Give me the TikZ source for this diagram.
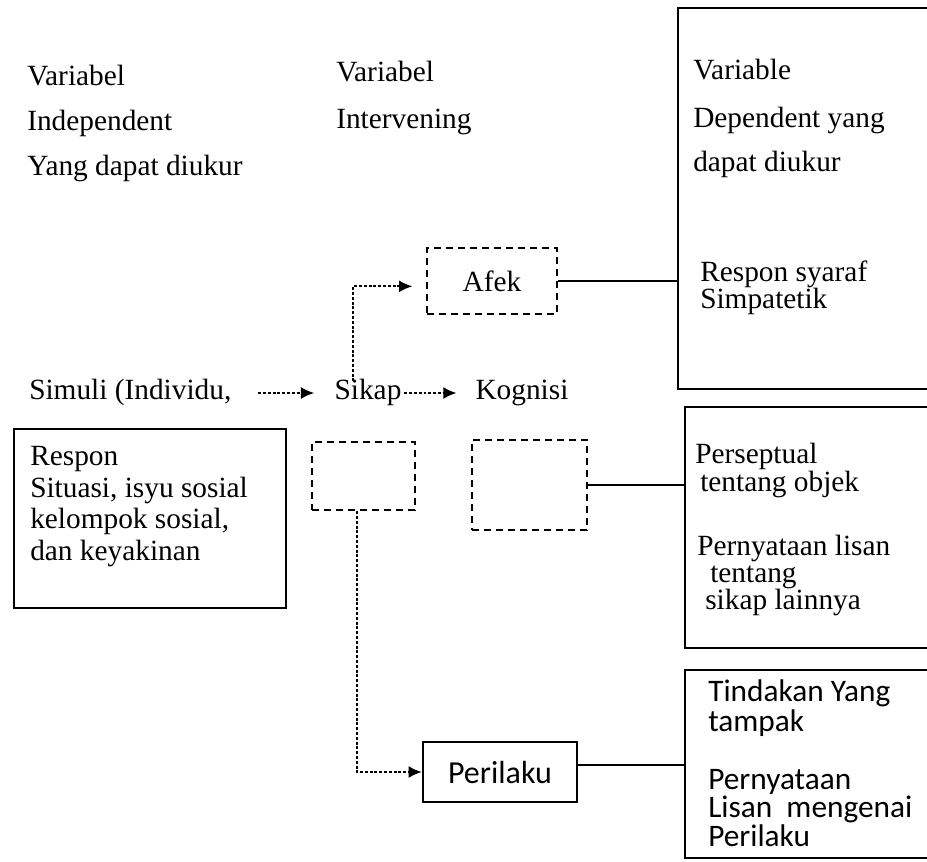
\documentclass[tikz,border=0pt]{standalone}
\usepackage{fontspec}
\setmainfont{Liberation Serif}
\newfontfamily\calib{Carlito}
\usetikzlibrary{arrows.meta}
\tikzset{
box/.style={draw, line width=1.6pt, rectangle, inner sep=0pt},
dbox/.style={draw, line width=1.8pt, dash pattern=on 5.5pt off 3.5pt, rectangle, inner sep=0pt,
  font=\fontsize{22}{24}\selectfont},
lbl/.style={anchor=west, inner sep=0pt, text height=13pt, text depth=4pt,
  font=\fontsize{22}{24}\selectfont},
slbl/.style={anchor=west, inner sep=0pt, text height=14pt, text depth=4pt,
  font=\calib\fontsize{23.5}{26}\selectfont},
dots/.style={line width=1.6pt, dash pattern=on 2.2pt off 1.4pt,
  -{Latex[length=10pt,width=9pt]}},
link/.style={line width=1.6pt},
}

\begin{document}
\begin{tikzpicture}[x=0.75pt, y=-0.75pt]
\useasboundingbox[fill=white] (0,0) rectangle (927,861);
% the headings
\node[lbl] (indep1) at (27,79) {Variabel};
\node[lbl] (indep2) at (27,124) {Independent};
\node[lbl] (indep3) at (27,169) {Yang dapat diukur};
\node[lbl] (interv1) at (336,75) {Variabel};
\node[lbl] (interv2) at (336,122) {Intervening};
% the boxes on the right, open at the page edge
\coordinate (dep) at (678,8);
\coordinate (kogres) at (685,407);
\coordinate (actres) at (685,670);
\draw[link] (927,8) -| (678,389) -- (927,389);
\draw[link] (927,407) -| (685,648) -- (927,648);
\draw[link] (927,670) -| (685,858) -- (927,858);
\node[lbl] (dep1) at (693,73) {Variable};
\node[lbl] (dep2) at (693,121) {Dependent yang};
\node[lbl] (dep3) at (693,165) {dapat diukur};
\node[lbl] (dep4) at (700,275) {Respon syaraf};
\node[lbl] (dep5) at (700,302) {Simpatetik};
\node[lbl] (kog1) at (695,457) {Perseptual};
\node[lbl] (kog2) at (700,485) {tentang objek};
\node[lbl] (kog3) at (697,549) {Pernyataan lisan};
\node[lbl] (kog4) at (710,576) {tentang};
\node[lbl] (kog5) at (705,603) {sikap lainnya};
\foreach \txt [count=\i] in {Tindakan Yang, tampak}
  \node[slbl] (act\i) at (708,665+30*\i) {\txt};
\foreach \txt [count=\i] in {Pernyataan, Lisan\ \ mengenai, Perilaku}
  \node[slbl] (act\the\numexpr\i+2\relax) at (708,754+28.5*\i) {\txt};
% the stimulus
\node[lbl] (simuli) at (29,393) {Simuli (Individu,};
\node[box, anchor=north west, minimum width=204pt, minimum height=134.25pt] (respon) at (13,428) {};
\foreach \txt [count=\i] in {Respon, {Situasi, isyu sosial}, {kelompok sosial,}, dan keyakinan}
  \node[lbl] (resp\i) at (30,428+31.5*\i) {\txt};
% the middle
\node[lbl, anchor=center] (sikap) at (368,393) {Sikap};
\node[lbl, anchor=center] (kognisi) at (522,393) {Kognisi};
\node[dbox, minimum width=97.5pt, minimum height=49.5pt] (afek) at (492,281) {Afek};
\node[dbox, minimum width=77.25pt, minimum height=51pt] (konasi) at (363.5,476) {};
\node[dbox, minimum width=86.25pt, minimum height=67.5pt] (kogbox) at (529.5,485) {};
\node[box, minimum width=115.5pt, minimum height=45pt, font=\calib\fontsize{24}{27}\selectfont] (perilaku) at (500,772) {Perilaku};
% the arrows
\draw[dots] ([xshift=20pt]simuli.east) -- ([xshift=-15pt]sikap.west);
\draw[dots] ([xshift=2pt]sikap.east) -- ([xshift=-14pt]kognisi.west);
\draw[dots, shorten >=10pt] ([xshift=-11pt]sikap.north) |- ([yshift=-4pt]afek.west);
\draw[dots] ([xshift=-5pt]konasi.south) |- (perilaku.west);
% the links
\draw[link] (afek.east) -- (afek.east -| dep);
\draw[link] (kogbox.east) -- (kogbox.east -| kogres);
\draw[link] ([yshift=5pt]perilaku.east) -- ([yshift=5pt]perilaku.east -| actres);
\end{tikzpicture}
\end{document}
